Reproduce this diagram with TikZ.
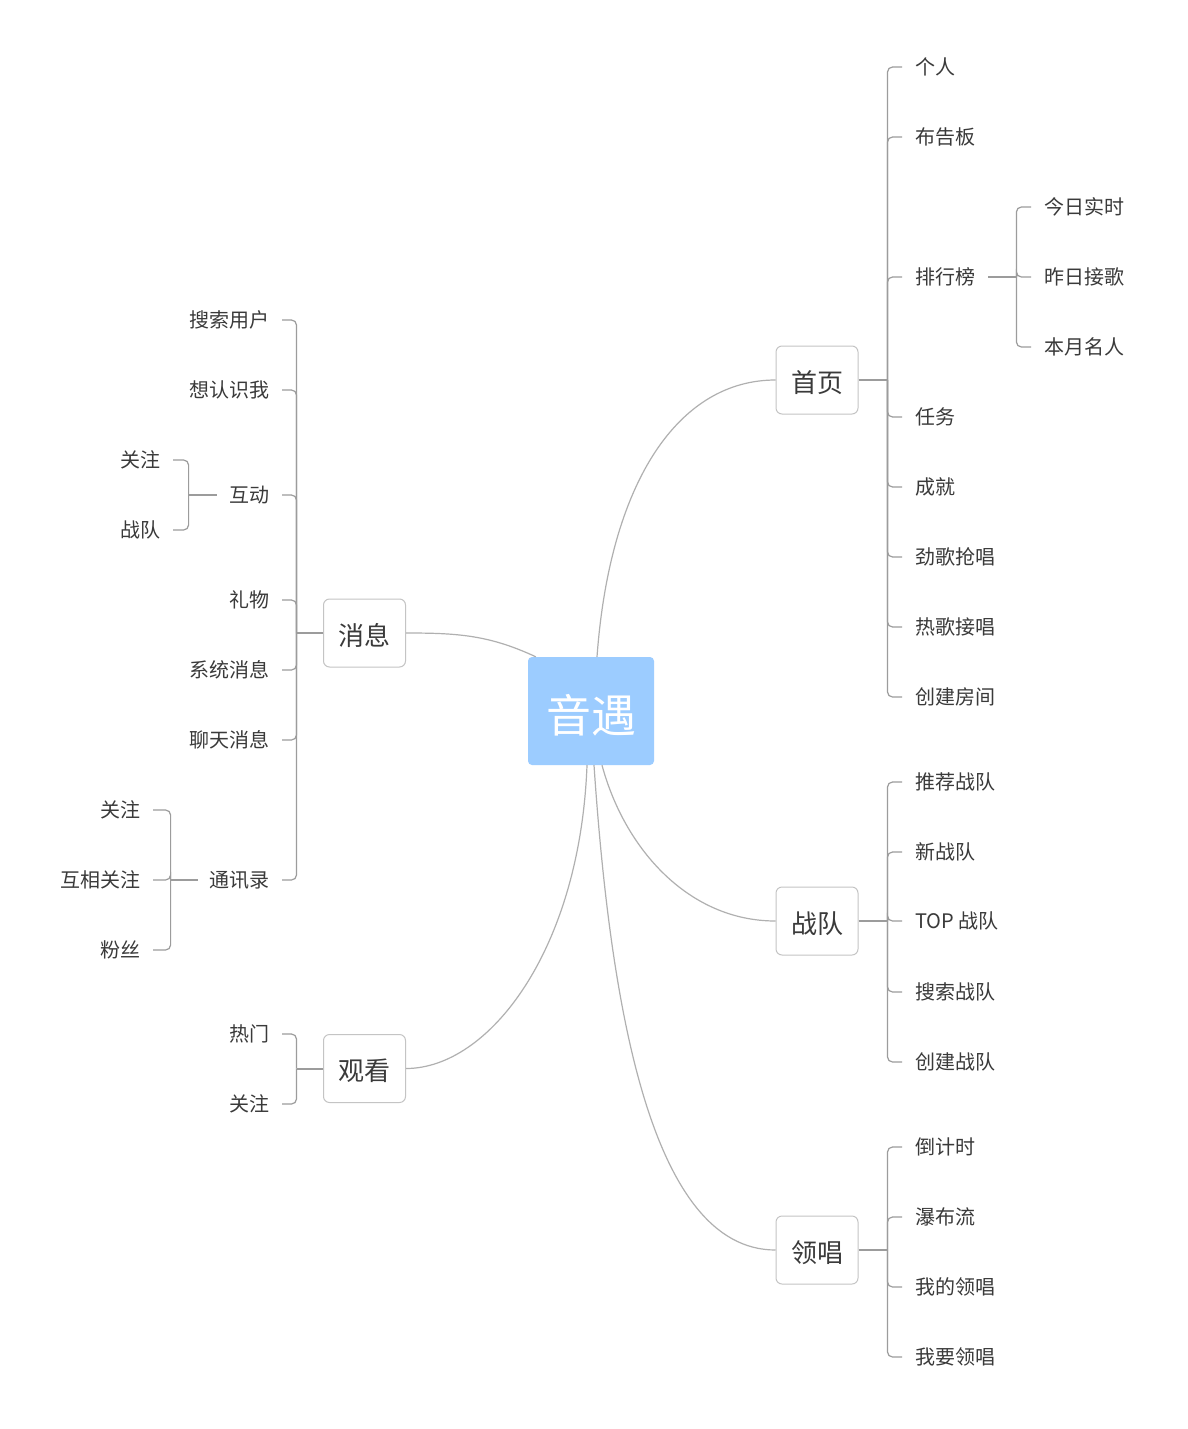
\documentclass[tikz,border=0pt]{standalone}
\usepackage{fontspec}
\setmainfont{Noto Sans CJK SC}
\usetikzlibrary{positioning}

\definecolor{rootblue}{HTML}{9CCCFF}
\definecolor{boxgray}{HTML}{C4C4C4}
\definecolor{linegray}{HTML}{9C9C9C}
\definecolor{curvegray}{HTML}{B0B0B0}
\definecolor{textgray}{HTML}{3A3A3A}

\tikzset{
  root/.style={fill=rootblue, rounded corners=4pt, minimum width=126pt, minimum height=108pt,
    text=white, text height=42pt, text depth=0pt, font=\fontsize{45}{50}\selectfont},
  topic/.style={draw=boxgray, line width=1pt, fill=white, rounded corners=6pt,
    minimum width=82pt, minimum height=68pt, text=textgray, text height=24.8pt, text depth=0pt,
    font=\fontsize{26}{30}\selectfont},
  leaf/.style={inner sep=0pt, text=textgray, text height=15.8pt, text depth=0pt,
    font=\fontsize{20}{24}\selectfont},
  link/.style={draw=curvegray, line width=1.2pt},
  stem/.style={draw=linegray, line width=2pt},
  branch/.style={draw=linegray, line width=1.2pt, rounded corners=5pt}
}

\begin{document}
\begin{tikzpicture}[x=1pt,y=1pt]
\fill[white] (0,0) rectangle (1188,-1429);
\useasboundingbox (0,0) rectangle (1188,-1429);

% centre and main topics
\node[root] (yy) at (591,-711) {音遇};
\node[topic] (home) at (817,-380) {首页};
\node[topic] (msg) at (364.5,-633) {消息};
\node[topic] (watch) at (364.5,-1068.5) {观看};
\node[topic] (team) at (817,-921) {战队};
\node[topic] (lead) at (817,-1250) {领唱};

\draw[link] ([xshift=6pt]yy.north) .. controls +(13,177) and +(-96,0) .. (home.west);
\draw[link] ([xshift=8pt]yy.north west) to[out=155,in=0] (msg.east);
\draw[link] ([xshift=-4pt]yy.south) .. controls +(-7,-185) and +(83,0) .. (watch.east);
\draw[link] ([xshift=11pt]yy.south) .. controls +(23,-85) and +(-86,0) .. (team.west);
\draw[link] ([xshift=3pt]yy.south) .. controls +(16,-235) and +(-126,0) .. (lead.west);

% 首页
\coordinate (homej) at ([xshift=29pt]home.east);
\draw[stem] (home.east) -- (homej);
\foreach \y/\t/\n in {67/个人/h1, 137/布告板/h2, 277/排行榜/h3, 417/任务/h4,
    487/成就/h5, 557/劲歌抢唱/h6, 627/热歌接唱/h7, 697/创建房间/h8}
  \node[leaf, anchor=west] (\n) at (915,-\y) {\t};
\foreach \n in {h1,h2,h3,h4,h5,h6,h7,h8}
  \draw[branch] (homej) |- ([xshift=-13pt]\n.west);

% 排行榜
\coordinate (rankj) at ([xshift=41pt]h3.east);
\draw[stem, line width=1.6pt] ([xshift=13pt]h3.east) -- (rankj);
\foreach \y/\t/\n in {207/今日实时/r1, 277/昨日接歌/r2, 347/本月名人/r3}
  \node[leaf, anchor=west] (\n) at (1044,-\y) {\t};
\foreach \n in {r1,r2,r3}
  \draw[branch] (rankj) |- ([xshift=-13pt]\n.west);

% 战队
\coordinate (teamj) at ([xshift=29pt]team.east);
\draw[stem] (team.east) -- (teamj);
\foreach \y/\t/\n in {782/推荐战队/t1, 852/新战队/t2, 921/TOP 战队/t3, 992/搜索战队/t4, 1062/创建战队/t5}
  \node[leaf, anchor=west] (\n) at (915,-\y) {\t};
\foreach \n in {t1,t2,t3,t4,t5}
  \draw[branch] (teamj) |- ([xshift=-13pt]\n.west);

% 领唱
\coordinate (leadj) at ([xshift=29pt]lead.east);
\draw[stem] (lead.east) -- (leadj);
\foreach \y/\t/\n in {1147/倒计时/l1, 1217/瀑布流/l2, 1287/我的领唱/l3, 1357/我要领唱/l4}
  \node[leaf, anchor=west] (\n) at (915,-\y) {\t};
\foreach \n in {l1,l2,l3,l4}
  \draw[branch] (leadj) |- ([xshift=-13pt]\n.west);

% 消息
\coordinate (msgj) at ([xshift=-26.5pt]msg.west);
\draw[stem] (msg.west) -- (msgj);
\foreach \y/\t/\n in {320/搜索用户/m1, 390/想认识我/m2, 495/互动/m3, 600/礼物/m4,
    670/系统消息/m5, 740/聊天消息/m6, 880/通讯录/m7}
  \node[leaf, anchor=east] (\n) at (270,-\y) {\t};
\foreach \n in {m1,m2,m3,m4,m5,m6,m7}
  \draw[branch] (msgj) |- ([xshift=12pt]\n.east);

% 互动
\coordinate (actj) at ([xshift=-41pt]m3.west);
\draw[branch] ([xshift=-13pt]m3.west) -- (actj);
\foreach \y/\t/\n in {460/关注/a1, 530/战队/a2}
  \node[leaf, anchor=east] (\n) at (161,-\y) {\t};
\foreach \n in {a1,a2}
  \draw[branch] (actj) |- ([xshift=12pt]\n.east);

% 通讯录
\coordinate (bookj) at ([xshift=-39pt]m7.west);
\draw[branch] ([xshift=-12pt]m7.west) -- (bookj);
\foreach \y/\t/\n in {810/关注/b1, 880/互相关注/b2, 950/粉丝/b3}
  \node[leaf, anchor=east] (\n) at (141,-\y) {\t};
\foreach \n in {b1,b2,b3}
  \draw[branch] (bookj) |- ([xshift=12pt]\n.east);

% 观看
\coordinate (watchj) at ([xshift=-26.5pt]watch.west);
\draw[stem] (watch.west) -- (watchj);
\foreach \y/\t/\n in {1034/热门/w1, 1104/关注/w2}
  \node[leaf, anchor=east] (\n) at (270,-\y) {\t};
\foreach \n in {w1,w2}
  \draw[branch] (watchj) |- ([xshift=12pt]\n.east);

\end{tikzpicture}
\end{document}
